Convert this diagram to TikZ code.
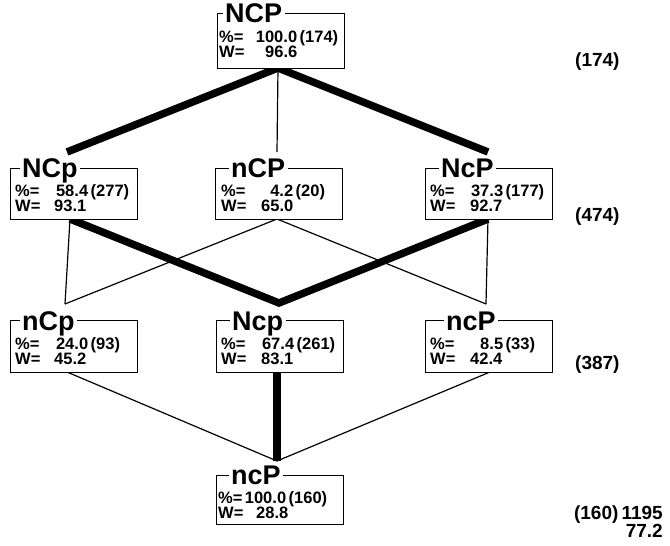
\documentclass[tikz,border=0pt]{standalone}
\usepackage{fontspec}
\setmainfont{Liberation Sans}
\pgfdeclarelayer{bg}
\pgfsetlayers{bg,main}
\newcommand{\pline}[3]{\makebox[25pt][l]{\%=}\makebox[#1][r]{#2}\hspace{2.5pt}(#3)}
\newcommand{\wline}[2]{\makebox[#1][l]{W=}#2}
\newcommand{\twolines}[2]{\begin{tabular}[t]{@{}l@{}}#1\\#2\end{tabular}}
\begin{document}
\begin{tikzpicture}[x=1pt,y=-1pt,
  frame/.style={draw, line width=1.2pt, minimum width=127pt, inner sep=0pt, fill=white, anchor=north west},
  ttl/.style={anchor=base west, fill=white, inner xsep=2.5pt, inner ysep=0pt, font=\fontsize{27}{27}\selectfont\bfseries},
  dat/.style={anchor=base west, inner sep=0pt, font=\fontsize{16.5}{13}\selectfont\bfseries},
  side/.style={inner sep=0pt, font=\fontsize{19}{17}\selectfont\bfseries},
  thinline/.style={line width=1.2pt},
  heavy/.style={line width=7.5pt, line join=miter, miter limit=20}]
\useasboundingbox (0,0) rectangle (670,546);

% level 1
\node[frame, minimum height=55pt] (NCP) at (217,13) {};
\node[ttl] (NCP-t) at (222.5,22) {NCP};
\node[dat] (NCP-d) at (219,42) {\twolines{\pline{53pt}{100.0}{174}}{\wline{46pt}{96.6}}};

% level 2
\node[frame, minimum height=51pt] (NCp) at (10,168) {};
\node[ttl] (NCp-t) at (19.5,177) {NCp};
\node[dat] (NCp-d) at (15,196) {\twolines{\pline{48pt}{58.4}{277}}{\wline{39pt}{93.1}}};

\node[frame, minimum height=51pt] (nCP) at (215,168) {};
\node[ttl] (nCP-t) at (228.5,177) {nCP};
\node[dat] (nCP-d) at (221,196) {\twolines{\pline{47pt}{4.2}{20}}{\wline{40pt}{65.0}}};

\node[frame, minimum height=51pt] (NcP) at (425,168) {};
\node[ttl] (NcP-t) at (438.5,177) {NcP};
\node[dat] (NcP-d) at (430,196) {\twolines{\pline{48pt}{37.3}{177}}{\wline{40pt}{92.7}}};

% level 3
\node[frame, minimum height=52pt] (nCp) at (10,320) {};
\node[ttl] (nCp-t) at (19.5,330) {nCp};
\node[dat] (nCp-d) at (15,349) {\twolines{\pline{48pt}{24.0}{93}}{\wline{39pt}{45.2}}};

\node[frame, minimum height=52pt] (Ncp) at (216,320) {};
\node[ttl] (Ncp-t) at (229.5,330) {Ncp};
\node[dat] (Ncp-d) at (221,349) {\twolines{\pline{48pt}{67.4}{261}}{\wline{40pt}{83.1}}};

\node[frame, minimum height=52pt] (ncP) at (425,320) {};
\node[ttl] (ncP-t) at (443.5,330) {ncP};
\node[dat] (ncP-d) at (430,349) {\twolines{\pline{48pt}{8.5}{33}}{\wline{40pt}{42.4}}};

% level 4
\node[frame, minimum height=49pt] (ncPb) at (216,475) {};
\node[ttl] (ncPb-t) at (228.5,484) {ncP};
\node[dat] (ncPb-d) at (218,503) {\twolines{\pline{43pt}{100.0}{160}}{\wline{38pt}{28.8}}};

% side totals
\node[side, anchor=base west] (s1) at (575,66) {(174)};
\node[side, anchor=base west] (s2) at (575,221) {(474)};
\node[side, anchor=base west] (s3) at (575,369) {(387)};
\node[side, anchor=base east] (s4) at (663,519) {\begin{tabular}[t]{@{}r@{}}(160)\,1195\\77.2\end{tabular}};

% connection points
\coordinate (NCP-b) at (278,68);
\coordinate (NCp-b) at (70,219);
\coordinate (nCP-b) at (277,219);
\coordinate (NcP-b) at (488,219);
\coordinate (nCp-b) at (67,372);
\coordinate (Ncp-b) at (277,372);
\coordinate (ncP-b) at (490,372);
\coordinate (NCp-top) at (67,152);
\coordinate (nCP-top) at (277,152);
\coordinate (NcP-top) at (488,152);
\coordinate (nCp-top) at (65,304);
\coordinate (Ncp-top) at (279,303);
\coordinate (ncP-top) at (486,304);
\coordinate (ncPb-top) at (277,461);

\begin{pgfonlayer}{bg}
\draw[thinline] (NCP-b) -- (nCP-top);
\draw[heavy] (NCp-top) -- (NCP-b) -- (NcP-top);
\draw[thinline] (NCp-b) -- (nCp-top);
\draw[thinline] (nCP-b) -- (nCp-top);
\draw[thinline] (nCP-b) -- (ncP-top);
\draw[thinline] (NcP-b) -- (ncP-top);
\draw[heavy] (NCp-b) -- (Ncp-top) -- (NcP-b);
\draw[thinline] (nCp-b) -- (ncPb-top);
\draw[thinline] (ncP-b) -- (ncPb-top);
\draw[heavy] (Ncp-b) -- (ncPb-top);
\end{pgfonlayer}
\end{tikzpicture}
\end{document}
